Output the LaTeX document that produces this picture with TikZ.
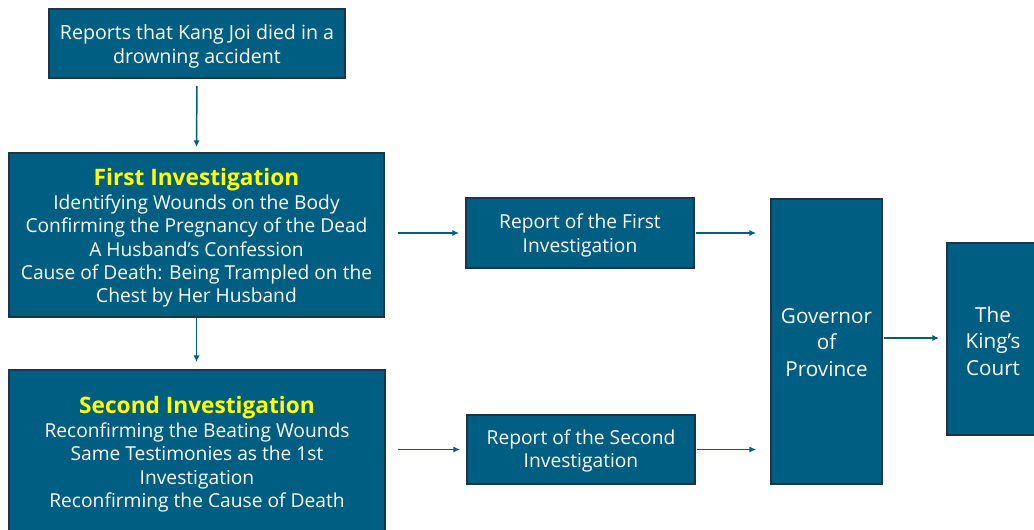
\documentclass[tikz,border=0pt]{standalone}
\usepackage{fontspec}
\setmainfont{Open Sans}
\usetikzlibrary{arrows.meta,calc}
\definecolor{boxfill}{RGB}{0,94,130}
\definecolor{boxline}{RGB}{30,52,72}
\definecolor{titley}{RGB}{255,255,0}
\tikzset{
  box/.style={draw=boxline, line width=1.3pt, fill=boxfill, inner sep=0pt},
  txt/.style={text=white, align=center, inner sep=0pt, font=\fontsize{14.4}{17.6}\selectfont},
  bigtxt/.style={txt, font=\fontsize{15.5}{20}\selectfont},
  conn/.style={draw=boxfill, line width=1.1pt, -{Latex[length=5pt,width=4.5pt]}},
}
\newcommand{\ttlfont}{\fontsize{17}{20}\selectfont\bfseries\color{titley}}
\begin{document}
\begin{tikzpicture}[x=0.75pt,y=-0.75pt]
\useasboundingbox (0,0) rectangle (1034,529);
\fill[white] (0,0) rectangle (1034,529);
% boxes
\node[box, minimum width=222pt, minimum height=51.75pt] (top) at (197,43.5) {};
\node[box, minimum width=281.25pt, minimum height=123pt] (first) at (196.5,235) {};
\node[box, minimum width=282pt, minimum height=124.5pt] (second) at (197,453) {};
\node[box, minimum width=171pt, minimum height=52.5pt] (r1) at (580,233) {};
\node[box, minimum width=171pt, minimum height=51.75pt] (r2) at (581,449.5) {};
\node[box, minimum width=83.25pt, minimum height=213.75pt] (gov) at (826.5,341.5) {};
\node[box, minimum width=69pt, minimum height=144pt] (king) at (993,339) {};
% texts
\node[txt, font=\fontsize{14.7}{17.6}\selectfont] (topT) at ($(top)+(0,3)$) {Reports that Kang Joi died in a\\drowning accident};
\node[txt] (firstT) at ($(first)+(0,3)$)
  {{\ttlfont First Investigation}\\Identifying Wounds on the Body\\Confirming the Pregnancy of the Dead\\A Husband’s Confession\\Cause of Death: Being Trampled on the\\Chest by Her Husband};
\node[txt] (secondT) at ($(second)+(0,1.5)$)
  {{\ttlfont Second Investigation}\\Reconfirming the Beating Wounds\\Same Testimonies as the 1st\\Investigation\\Reconfirming the Cause of Death};
\node[txt] (r1T) at ($(r1)+(0,2.5)$) {Report of the First\\Investigation};
\node[txt] (r2T) at ($(r2)+(0,1.5)$) {Report of the Second\\Investigation};
\node[bigtxt] (govT) at ($(gov)+(0,1)$) {Governor\\of\\Province};
\node[bigtxt] (kingT) at ($(king)+(0,2)$) {The\\King’s\\Court};
% connectors
\coordinate (gk) at ($(gov.east)+(0,-3.5)$);
\draw[conn, shorten <=5.25pt, shorten >=3.75pt] (top.south) -- (first.north);
\draw[conn, shorten >=5.25pt] (first.south) -- (first.south |- second.north);
\draw[conn, shorten <=9.75pt, shorten >=4.5pt] (first.east |- r1.west) -- (r1.west);
\draw[conn, shorten <=9pt, shorten >=4.5pt] (second.east |- r2.west) -- (r2.west);
\draw[conn, shorten <=0.75pt, shorten >=10.5pt] (r1.east) -- (r1.east -| gov.west);
\draw[conn, shorten <=0.75pt, shorten >=10.5pt] (r2.east) -- (r2.east -| gov.west);
\draw[conn, shorten <=0.75pt, shorten >=5.25pt] (gk) -- (gk -| king.west);
\end{tikzpicture}
\end{document}
